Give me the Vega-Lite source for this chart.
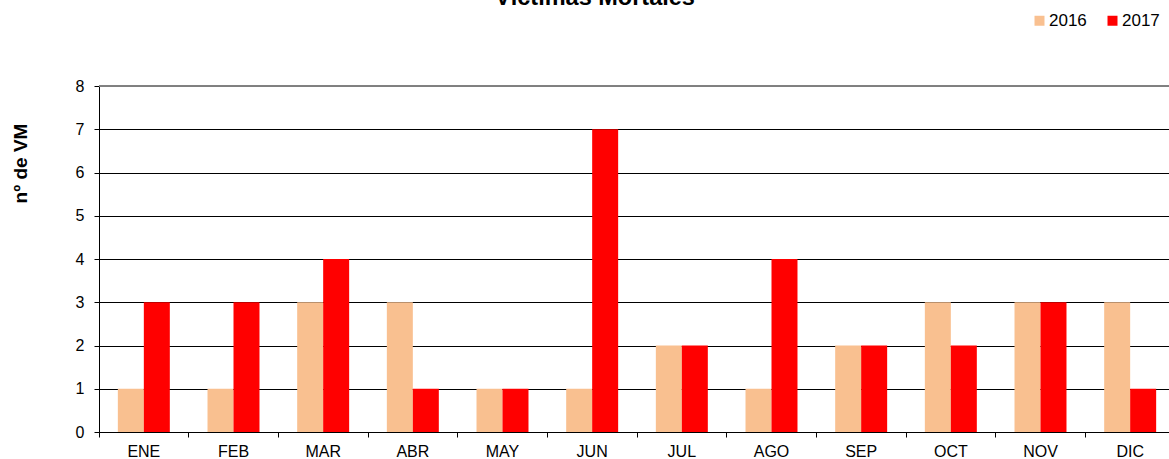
{
  "$schema": "https://vega.github.io/schema/vega-lite/v6.json",
  "autosize": "none",
  "width": 1076,
  "height": 346,
  "padding": {"left": 99, "top": 86, "right": 0, "bottom": 27},
  "background": "white",
  "title": {
    "text": "Víctimas Mortales",
    "font": "Liberation Sans",
    "fontSize": 23.5,
    "fontWeight": "bold",
    "color": "#000000",
    "anchor": "middle",
    "offset": 3,
    "dx": -42
  },
  "config": {
    "font": "Liberation Sans",
    "view": {"stroke": null}
  },
  "data": {
    "values": [
      {"mes": "ENE", "anio": "2016", "vm": 1}, {"mes": "ENE", "anio": "2017", "vm": 3},
      {"mes": "FEB", "anio": "2016", "vm": 1}, {"mes": "FEB", "anio": "2017", "vm": 3},
      {"mes": "MAR", "anio": "2016", "vm": 3}, {"mes": "MAR", "anio": "2017", "vm": 4},
      {"mes": "ABR", "anio": "2016", "vm": 3}, {"mes": "ABR", "anio": "2017", "vm": 1},
      {"mes": "MAY", "anio": "2016", "vm": 1}, {"mes": "MAY", "anio": "2017", "vm": 1},
      {"mes": "JUN", "anio": "2016", "vm": 1}, {"mes": "JUN", "anio": "2017", "vm": 7},
      {"mes": "JUL", "anio": "2016", "vm": 2}, {"mes": "JUL", "anio": "2017", "vm": 2},
      {"mes": "AGO", "anio": "2016", "vm": 1}, {"mes": "AGO", "anio": "2017", "vm": 4},
      {"mes": "SEP", "anio": "2016", "vm": 2}, {"mes": "SEP", "anio": "2017", "vm": 2},
      {"mes": "OCT", "anio": "2016", "vm": 3}, {"mes": "OCT", "anio": "2017", "vm": 2},
      {"mes": "NOV", "anio": "2016", "vm": 3}, {"mes": "NOV", "anio": "2017", "vm": 3},
      {"mes": "DIC", "anio": "2016", "vm": 3}, {"mes": "DIC", "anio": "2017", "vm": 1}
    ]
  },
  "layer": [
    {
      "mark": {"type": "rule", "color": "#808080", "strokeWidth": 1},
      "encoding": {"y": {"datum": 8, "type": "quantitative"}}
    },
    {
      "mark": {"type": "bar"},
      "encoding": {
        "x": {
          "field": "mes",
          "type": "nominal",
          "sort": ["ENE","FEB","MAR","ABR","MAY","JUN","JUL","AGO","SEP","OCT","NOV","DIC"],
          "scale": {"paddingInner": 0, "paddingOuter": 0},
          "axis": {
            "title": null,
            "labelAngle": 0,
            "bandPosition": 0,
            "labelFontSize": 16,
            "labelColor": "#000000",
            "labelPadding": 6,
            "tickSize": 5,
            "tickColor": "#000000",
            "domainColor": "#000000",
            "grid": false
          }
        },
        "xOffset": {
          "field": "anio",
          "type": "nominal",
          "sort": ["2016", "2017"],
          "scale": {"paddingInner": 0, "paddingOuter": 0.725}
        },
        "y": {
          "field": "vm",
          "type": "quantitative",
          "scale": {"domain": [0, 8], "nice": false},
          "axis": {
            "title": "nº de VM",
            "titleFontSize": 19,
            "titleFontWeight": "bold",
            "titleColor": "#000000",
            "titleX": -79,
            "titleY": 77,
            "titleAngle": -90,
            "titleAlign": "center",
            "titleBaseline": "middle",
            "values": [0,1,2,3,4,5,6,7,8],
            "labelFontSize": 16,
            "labelColor": "#000000",
            "labelPadding": 10,
            "tickSize": 5,
            "tickColor": "#000000",
            "domainColor": "#000000",
            "grid": true,
            "gridColor": "#000000",
            "gridWidth": 1
          }
        },
        "color": {
          "field": "anio",
          "type": "nominal",
          "scale": {"domain": ["2016", "2017"], "range": ["#F9C090", "#FF0000"]},
          "legend": {
            "title": null,
            "orient": "none",
            "legendX": 932,
            "legendY": -74,
            "direction": "horizontal",
            "symbolType": "square",
            "symbolSize": 100,
            "symbolStrokeWidth": 0,
            "labelFontSize": 17,
            "labelColor": "#000000",
            "labelOffset": 1,
            "columnPadding": 17
          }
        }
      }
    }
  ]
}
